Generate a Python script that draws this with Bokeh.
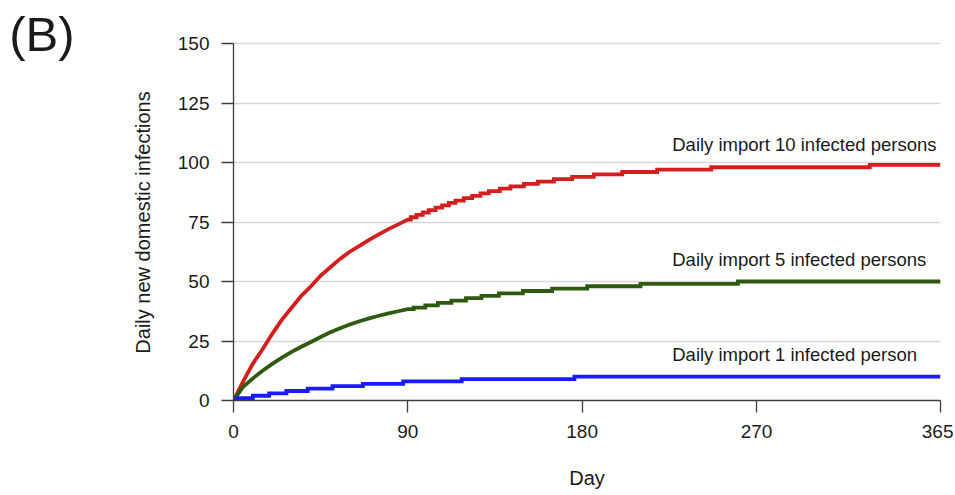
from bokeh.plotting import figure
from bokeh.models import Range1d, FixedTicker, Label, LinearAxis
from bokeh.embed import file_html
from bokeh.resources import INLINE

# ---------------- data ----------------
x_ticks = [0, 90, 180, 270, 365]
y_ticks = [0, 25, 50, 75, 100, 125, 150]

# Import 10 persons/day (red): smooth early part, then unit steps
red_curve_days = [0, 5, 10, 15, 20, 25, 30, 35, 40, 45, 50, 55, 60, 65, 70, 75, 80, 85, 90]
red_curve_vals = [0, 8, 15.5, 21.5, 28, 34, 39, 44, 48, 52.5, 56, 59.5, 62.5, 65, 67.5, 69.8, 72, 74, 76]
red_step_days = [91.5, 94.5, 97.7, 100.8, 104.3, 107.7, 111.2, 114.6, 118.9, 123.2, 127.5,
                 131.8, 137.5, 143, 149.9, 157.1, 165.4, 174.8, 186, 200.7, 218.7, 246.6, 328.5]
red_step_vals = [77, 78, 79, 80, 81, 82, 83, 84, 85, 86, 87,
                 88, 89, 90, 91, 92, 93, 94, 95, 96, 97, 98, 99]

# Import 5 persons/day (green)
green_curve_days = [0, 5, 10, 15, 20, 25, 30, 35, 40, 45, 50, 55, 60, 65, 70, 75, 80, 85, 90]
green_curve_vals = [0, 5.8, 9.3, 12.5, 15.4, 18, 20.4, 22.6, 24.6, 26.7, 28.7, 30.4, 31.9, 33.3,
                    34.5, 35.6, 36.6, 37.5, 38.4]
green_step_days = [93, 99, 105.5, 112.5, 120, 128, 137, 149.4, 164.5, 182.6, 210.1, 260.4]
green_step_vals = [39, 40, 41, 42, 43, 44, 45, 46, 47, 48, 49, 50]

# Import 1 person/day (blue)
blue_curve_days = [0, 2]
blue_curve_vals = [0, 1]
blue_step_days = [10, 18.4, 27.3, 38.3, 51.1, 66.8, 87.6, 117.8, 176]
blue_step_vals = [2, 3, 4, 5, 6, 7, 8, 9, 10]

series_labels = ["Daily import 10 infected persons",
                 "Daily import 5 infected persons",
                 "Daily import 1 infected person"]
x_title = "Day"
y_title = "Daily new domestic infections"
panel_tag = "(B)"

END_DAY = 365
Y_AXIS_MAX = 150


def build_path(cdays, cvals, sdays, svals, end_day):
    xs = list(cdays)
    ys = list(cvals)
    for d, v in zip(sdays, svals):
        xs += [d, d]
        ys += [ys[-1], v]
    xs.append(end_day)
    ys.append(ys[-1])
    return xs, ys


FONT = "Liberation Sans"
TXT = "#1a1a1a"
AX = "#3c3c3c"

# frame extends a little above the 150 line so the panel tag can sit there
PX_PER_UNIT = 357 / 150.0
TOP_PAD_PX = 33
y_top = Y_AXIS_MAX + TOP_PAD_PX / PX_PER_UNIT

p = figure(width=953, height=494, output_backend="svg", toolbar_location=None,
           x_range=Range1d(0, END_DAY), y_range=Range1d(0, y_top),
           min_border_left=233, min_border_right=13, min_border_top=10, min_border_bottom=94)
p.outline_line_color = None
p.background_fill_color = "white"
p.border_fill_color = "white"

p.xgrid.visible = False
p.ygrid.grid_line_color = "#d6d6d6"
p.ygrid.grid_line_width = 1.4

p.xaxis.ticker = FixedTicker(ticks=x_ticks)
p.yaxis.ticker = FixedTicker(ticks=y_ticks)
p.yaxis.bounds = (0, Y_AXIS_MAX)
for ax in (p.xaxis[0], p.yaxis[0]):
    ax.axis_line_color = AX
    ax.axis_line_width = 1.3
    ax.major_tick_line_color = AX
    ax.major_tick_line_width = 1.3
    ax.major_tick_out = 12
    ax.major_tick_in = 0
    ax.minor_tick_line_color = None
    ax.major_label_text_font = FONT
    ax.major_label_text_font_size = "19px"
    ax.major_label_text_color = TXT
    ax.major_label_standoff = 12

p.xaxis.axis_label = x_title
p.xaxis.axis_label_standoff = 26
p.xaxis.axis_label_text_font = FONT
p.xaxis.axis_label_text_font_size = "20px"
p.xaxis.axis_label_text_font_style = "normal"
p.xaxis.axis_label_text_color = TXT


def text_axis(pos, text, size, standoff, orientation="horizontal"):
    return LinearAxis(ticker=FixedTicker(ticks=[pos]),
                      major_label_overrides={pos: text},
                      major_label_orientation=orientation,
                      axis_line_color=None, major_tick_line_color=None,
                      minor_tick_line_color=None, major_tick_out=0, major_tick_in=0,
                      major_label_standoff=standoff, major_label_text_font=FONT,
                      major_label_text_font_size=size, major_label_text_color=TXT)


# y title centred on the 0-150 span (not on the padded frame)
YTITLE_POS = 74.8
p.add_layout(text_axis(YTITLE_POS, y_title, "20px", 20, "parallel"), "left")
# panel tag "(B)"
TAG_POS = 153.8
p.add_layout(text_axis(TAG_POS, panel_tag, "49px", 55), "left")

rx, ry = build_path(red_curve_days, red_curve_vals, red_step_days, red_step_vals, END_DAY)
gx, gy = build_path(green_curve_days, green_curve_vals, green_step_days, green_step_vals, END_DAY)
bx, by = build_path(blue_curve_days, blue_curve_vals, blue_step_days, blue_step_vals, END_DAY)

p.line(rx, ry, line_color="#d41e1e", line_width=3.8, line_join="miter")
p.line(gx, gy, line_color="#2d5a10", line_width=3.8, line_join="miter")
p.line(bx, by, line_color="#1a1aff", line_width=3.8, line_join="miter")

label_x = 226.5
label_y = [107.6, 59.2, 19.4]
for txt, yv in zip(series_labels, label_y):
    p.add_layout(Label(x=label_x, y=yv, text=txt, text_font=FONT, text_font_size="18.5px",
                       text_color=TXT, text_baseline="alphabetic", text_align="left"))

open("out.html", "w").write(file_html(p, INLINE))
